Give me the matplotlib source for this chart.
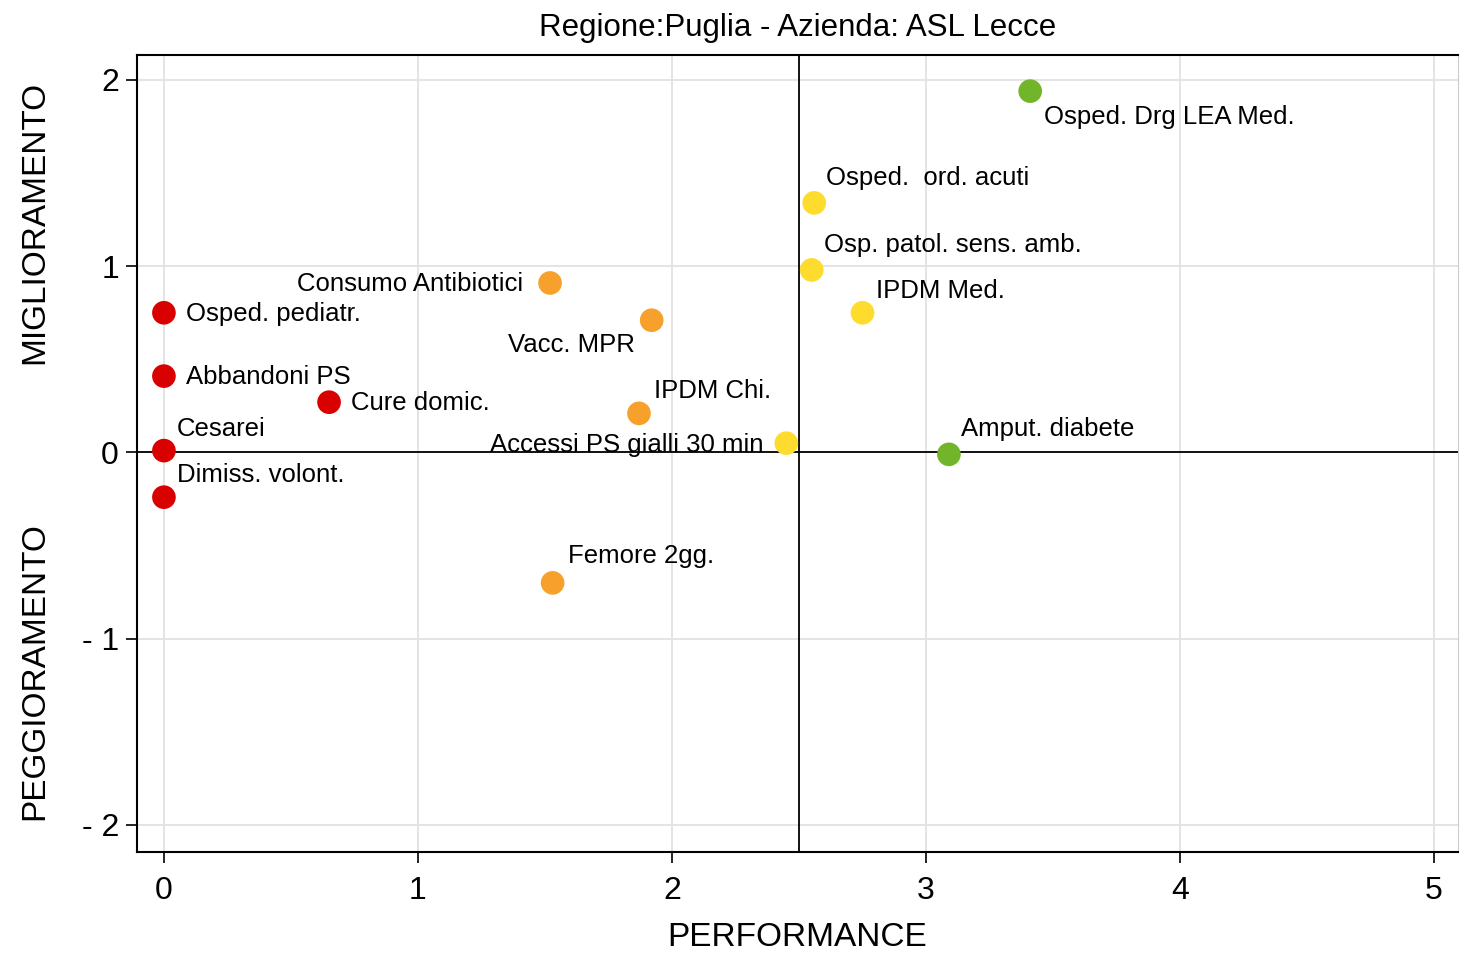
import numpy as np
import matplotlib
matplotlib.use("Agg")
import matplotlib.pyplot as plt

plt.rcParams['font.family'] = ['Liberation Sans', 'DejaVu Sans']

# indicator data (performance vs trend)
labels = ["Osped. Drg LEA Med.", "Osped.  ord. acuti", "Osp. patol. sens. amb.", "IPDM Med.",
          "Consumo Antibiotici", "Vacc. MPR", "Osped. pediatr.", "Abbandoni PS",
          "Cure domic.", "Cesarei", "Dimiss. volont.", "IPDM Chi.",
          "Accessi PS gialli 30 min", "Amput. diabete", "Femore 2gg."]
perf = [3.41, 2.56, 2.55, 2.75, 1.52, 1.92, 0.0, 0.0, 0.65, 0.0, 0.0, 1.87, 2.45, 3.09, 1.53]
trend = [1.94, 1.34, 0.98, 0.75, 0.91, 0.71, 0.75, 0.41, 0.27, 0.01, -0.24, 0.21, 0.05, -0.01, -0.70]
colors = ["#72b52a", "#fddc2e", "#fddc2e", "#fddc2e", "#f7a12c", "#f7a12c", "#d90000", "#d90000",
          "#d90000", "#d90000", "#d90000", "#f7a12c", "#fddc2e", "#72b52a", "#f7a12c"]
# label offsets in pixels (dx, dy) and alignment
offsets = [(14, -26, 'left'), (12, 25, 'left'), (12, 25, 'left'), (13, 22, 'left'),
           (-27, -1, 'right'), (-17, -25, 'right'), (22, -1, 'left'), (22, -1, 'left'),
           (22, -1, 'left'), (13, 22, 'left'), (13, 22, 'left'), (15, 22, 'left'),
           (-23, -2, 'right'), (12, 25, 'left'), (15, 27, 'left')]

fig = plt.figure(figsize=(14.6, 9.59), dpi=100)
ax = fig.add_axes([137/1460, 1-852/959, (1458-137)/1460, (852-55)/959])

ax.set_xlim(-0.106, 5.094)
ax.set_ylim(-2.145, 2.134)
ax.set_xticks([0, 1, 2, 3, 4, 5])
ax.set_yticks([-2, -1, 0, 1, 2])
ax.set_yticklabels(['- 2', '- 1', '0', '1', '2'])
ax.grid(True, color='#e2e2e2', linewidth=1.3)
ax.set_axisbelow(True)

ax.axhline(0, color='black', linewidth=1.3, zorder=1)
ax.axvline(2.5, color='black', linewidth=1.3, zorder=1)

ax.scatter(perf, trend, s=290, c=colors, zorder=3, linewidths=0)

for i in range(len(labels)):
    dx, dy, ha = offsets[i]
    ax.annotate(labels[i], (perf[i], trend[i]), xytext=(dx/1.389, dy/1.389),
                textcoords='offset points', ha=ha, va='center', fontsize=18.5)

for s in ['left', 'bottom', 'top']:
    ax.spines[s].set_linewidth(1.5)
ax.spines['right'].set_color('#cccccc')
ax.tick_params(axis='both', labelsize=23, length=8, width=1.2)
ax.tick_params(axis='x', pad=9)
ax.tick_params(axis='y', pad=5)

ax.set_xlabel("PERFORMANCE", fontsize=24, labelpad=12)
ax.set_title("Regione:Puglia - Azienda: ASL Lecce", fontsize=22.5, pad=14)

fig.text(35/1460, 1-222/959, "MIGLIORAMENTO", rotation=90, fontsize=24, ha='center', va='center')
fig.text(35/1460, 1-671/959, "PEGGIORAMENTO", rotation=90, fontsize=24, ha='center', va='center')

fig.savefig("out.png", dpi=100)
